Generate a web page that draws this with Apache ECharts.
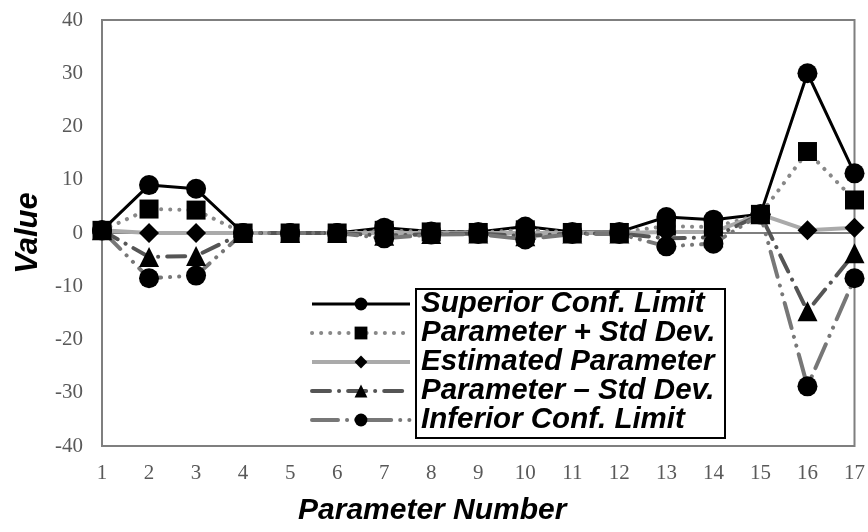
<!DOCTYPE html>
<html>
<head>
<meta charset="utf-8">
<script src="https://cdn.jsdelivr.net/npm/echarts@6/dist/echarts.min.js"></script>
<style>html,body{margin:0;padding:0;background:#fff}#c{width:868px;height:532px}</style>
</head>
<body>
<div id="c"></div>
<script>
const paramNumbers = [1,2,3,4,5,6,7,8,9,10,11,12,13,14,15,16,17];
const superiorLimit = [0.5, 9, 8.3, 0, 0, 0, 1, 0.3, 0.2, 1.2, 0.2, 0.2, 3, 2.5, 3.5, 30, 11.2];
const paramPlusStd = [0.5, 4.5, 4.3, 0, 0, 0, 0.5, 0.2, 0.1, 0.6, 0.1, 0.1, 1.3, 1.1, 3.5, 15.3, 6.2];
const estimatedParam = [0.5, 0, 0, 0, 0, 0, 0, 0, 0, 0, 0, 0, 0.2, 0.2, 3.5, 0.5, 1];
const paramMinusStd = [0.5, -4.5, -4.3, 0, 0, 0, -0.5, -0.2, -0.1, -0.6, -0.1, -0.1, -1, -0.8, 3.5, -14.7, -3.8];
const inferiorLimit = [0.5, -8.5, -8, 0, 0, 0, -1, -0.3, -0.2, -1.2, -0.2, -0.2, -2.5, -2, 3.5, -28.8, -8.5];
const seriesNames = ['Superior Conf. Limit', 'Parameter + Std Dev.', 'Estimated Parameter', 'Parameter \u2013 Std Dev.', 'Inferior Conf. Limit'];
const yTicks = [-40, -30, -20, -10, 0, 10, 20, 30, 40];

function pairs(vals){ return paramNumbers.map((x,i)=>[x, vals[i]]); }

const chart = echarts.init(document.getElementById('c'));
const mk = (name, vals, symbol, color, width, type, size, cap) => ({
  name, type: 'line', data: pairs(vals), symbol, symbolSize: size,
  itemStyle: { color: '#000' },
  lineStyle: { color, width, type, cap: cap || 'butt' },
  emphasis: { disabled: true }, animation: false
});
chart.setOption({
  animation: false,
  grid: { left: 102, right: 12, top: 20, bottom: 86, show: true, borderColor: '#7f7f7f', borderWidth: 2 },
  xAxis: {
    type: 'value', min: 1, max: 17, interval: 1,
    name: 'Parameter Number', nameLocation: 'middle', nameGap: 50,
    nameTextStyle: { fontFamily: 'Liberation Sans', fontWeight: 'bold', fontStyle: 'italic', fontSize: 30, color: '#000', padding: [0, 92, 0, 0] },
    axisLine: { show: true, lineStyle: { color: '#7f7f7f', width: 2 } },
    axisTick: { show: false }, splitLine: { show: false },
    axisLabel: { fontFamily: 'Liberation Serif', fontSize: 21, color: '#595959', margin: 17 }
  },
  yAxis: {
    type: 'value', min: yTicks[0], max: yTicks[yTicks.length-1], interval: 10,
    name: 'Value', nameLocation: 'middle', nameGap: 58, nameRotate: 90,
    nameTextStyle: { fontFamily: 'Liberation Sans', fontWeight: 'bold', fontStyle: 'italic', fontSize: 31, color: '#000' },
    axisLine: { show: true, lineStyle: { color: '#7f7f7f', width: 2 } },
    axisTick: { show: false }, splitLine: { show: false },
    axisLabel: { fontFamily: 'Liberation Serif', fontSize: 21, color: '#595959', margin: 19 }
  },
  legend: {
    orient: 'vertical', left: 310, top: 289, padding: 0, itemWidth: 98, itemHeight: 16, itemGap: -1,
    selectedMode: false,
    lineStyle: { width: 'inherit' },
    textStyle: { fontFamily: 'Liberation Sans', fontWeight: 'bold', fontStyle: 'italic', fontSize: 29.5, color: '#000', lineHeight: 28, padding: [0, 0, 0, 6] },
    data: seriesNames
  },
  graphic: [{ type: 'rect', shape: { x: 416, y: 289, width: 309, height: 149 }, style: { fill: 'none', stroke: '#000', lineWidth: 2 }, z: 100 }],
  series: [
    mk(seriesNames[0], superiorLimit, 'circle', '#000', 3, 'solid', 20),
    mk(seriesNames[1], paramPlusStd, 'rect', '#888', 4, [0.1, 9], 19, 'round'),
    mk(seriesNames[2], estimatedParam, 'diamond', '#aaa', 4, 'solid', 20),
    mk(seriesNames[3], paramMinusStd, 'triangle', '#555', 4, [18, 9, 0.1, 9], 20, 'round'),
    mk(seriesNames[4], inferiorLimit, 'circle', '#777', 4, [26, 9, 0.1, 9, 0.1, 9], 20, 'round')
  ]
});
</script>
</body>
</html>
